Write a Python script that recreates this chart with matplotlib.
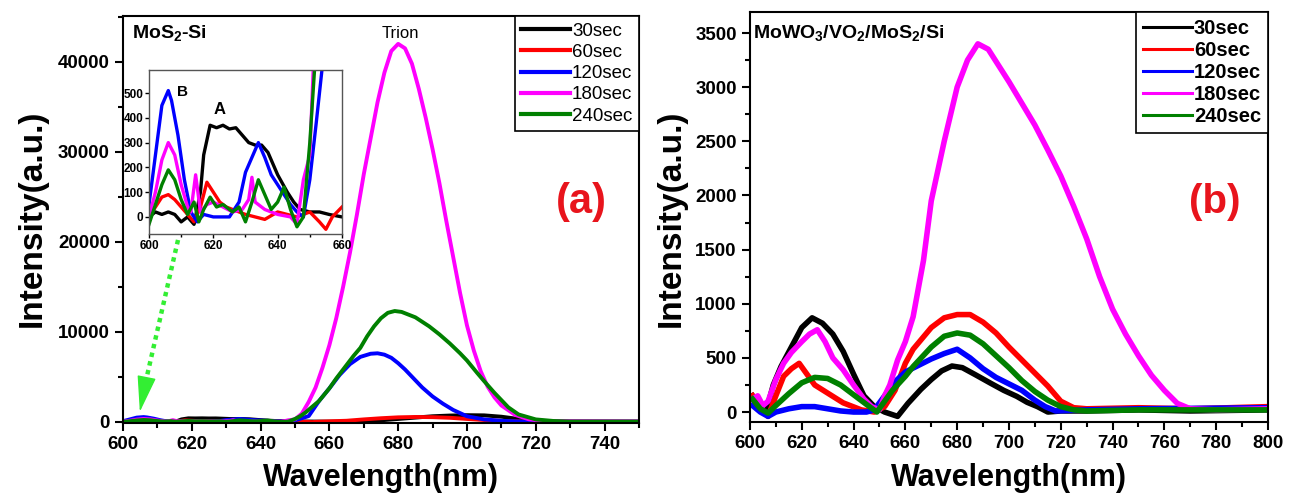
import matplotlib
matplotlib.use("Agg")
import matplotlib.pyplot as plt
from matplotlib.lines import Line2D
from matplotlib.ticker import MultipleLocator

plt.rcParams['font.family'] = ['Liberation Sans', 'DejaVu Sans']
plt.rcParams['font.weight'] = 'bold'
plt.rcParams['mathtext.fontset'] = 'custom'
plt.rcParams['mathtext.rm'] = 'Liberation Sans:bold'
plt.rcParams['mathtext.it'] = 'Liberation Sans:bold'
plt.rcParams['mathtext.bf'] = 'Liberation Sans:bold'

labels = ['30sec', '60sec', '120sec', '180sec', '240sec']
colors = ['#000000', '#ff0000', '#0000ff', '#ff00ff', '#008000']

# ---- panel (a): MoS2-Si, wavelength (nm) / intensity (a.u.)
a_wl_30 = [600, 602, 604, 606, 608, 610, 612, 614, 616, 617, 619, 621, 623, 625, 627, 629, 631, 633,
           635, 637, 640, 643, 645, 647, 650, 653, 656, 660, 665, 670, 675, 680, 685, 690, 695, 700,
           705, 710, 715, 720, 730, 750]
a_int_30 = [0, 20, 10, 20, 10, -20, 0, -30, 100, 250, 370, 360, 370, 355, 360, 330, 300, 290,
            290, 260, 170, 100, 60, 30, 20, 20, 10, 0, 0, 50, 150, 300, 450, 600, 680, 720,
            700, 550, 300, 100, 20, 0]

a_wl_60 = [600, 602, 604, 606, 608, 610, 612, 614, 616, 618, 620, 622, 624, 626, 628, 630, 633, 636,
           640, 643, 646, 650, 653, 655, 657, 660, 665, 670, 675, 680, 685, 690, 695, 700, 705, 710,
           715, 720, 730, 750]
a_int_60 = [0, 40, 80, 90, 70, 40, 10, -20, 40, 140, 100, 60, 40, 30, 20, 10, 0, -10,
            20, 10, 0, 20, -20, -50, 0, 40, 100, 250, 380, 480, 520, 500, 430, 300, 180, 80,
            30, 10, 0, 0]

a_wl_120 = [600, 602, 604, 606, 607, 609, 611, 613, 615, 617, 620, 625, 628, 630, 632, 634, 636, 638,
            640, 642, 644, 646, 648, 650, 652, 654, 657, 660, 663, 666, 669, 672, 674, 676, 678, 680,
            682, 684, 687, 690, 693, 696, 700, 705, 710, 715, 720, 750]
a_int_120 = [50, 250, 450, 510, 470, 330, 150, 20, -20, 10, 0, 0, 60, 180, 240, 300, 240, 170,
             130, 90, 50, 20, 0, 150, 380, 620, 2300, 3700, 5200, 6400, 7200, 7550, 7600, 7450, 7100, 6500,
             5800, 5000, 3800, 2800, 2000, 1300, 600, 250, 100, 20, 0, 0]

a_wl_180 = [600, 602, 604, 606, 608, 610, 612, 613, 614.5, 616, 618, 620, 623, 626, 629, 631, 632, 633,
            636, 640, 644, 646, 648, 650, 652, 654, 656, 658, 660, 662, 664, 666, 668, 670, 672, 674,
            676, 678, 680, 682, 684, 686, 688, 690, 692, 694, 696, 698, 700, 702, 704, 706, 708, 710,
            714, 718, 722, 730, 750]
a_int_180 = [0, 100, 230, 300, 250, 130, 40, 20, 170, 20, 50, 60, 40, 20, 30, 70, 160, 60,
             30, 10, 0, -30, 150, 250, 900, 2200, 3800, 6000, 8500, 11500, 15000, 18800, 23000, 27500, 31500, 35500,
             38800, 41200, 42000, 41500, 39800, 37000, 33800, 30300, 26500, 22300, 18300, 14300, 10700, 7900, 5600, 3900, 2700, 1800,
             750, 260, 80, 20, 0]

a_wl_240 = [600, 602, 604, 606, 608, 610, 612, 614, 615.5, 617, 619, 621, 623, 626, 628, 630, 632, 634,
            636, 638, 640, 642, 644, 646, 648, 650, 651.5, 653, 657, 660, 662, 665, 667, 669, 671, 673,
            675, 677, 679, 681, 683, 685, 687, 689, 692, 695, 698, 700, 703, 705, 708, 710, 712, 715,
            720, 725, 730, 750]
a_int_240 = [-30, 50, 130, 190, 150, 70, 10, 60, -20, 30, 80, 40, 50, 20, 40, -20, 60, 150,
             90, 30, 60, 120, 30, -40, 0, 300, 600, 1000, 2300, 3700, 4800, 6300, 7300, 8200, 9500, 10600,
             11500, 12100, 12300, 12200, 11900, 11600, 11100, 10600, 9700, 8700, 7600, 6800, 5400, 4500, 3200, 2400, 1600, 800,
             250, 80, 0, 0]

# ---- panel (b): MoWO3/VO2/MoS2/Si
b_wl_30 = [601, 603, 606, 609, 612, 616, 620, 624, 628, 632, 636, 640, 644, 648, 652, 657, 661, 666,
           670, 674, 678, 682, 687, 693, 698, 703, 707, 711, 715, 720, 730, 750, 770, 800]
b_int_30 = [150, 80, -20, 250, 420, 600, 780, 870, 820, 720, 560, 350, 150, 50, 0, -40, 80, 210,
            300, 380, 425, 410, 345, 265, 200, 145, 90, 50, 0, 10, 10, 20, 10, 20]

b_wl_60 = [601, 604, 607, 610, 613, 616, 619, 622, 625, 630, 636, 643, 648, 652, 656, 660, 663, 670,
           675, 680, 685, 690, 695, 700, 705, 710, 715, 720, 725, 730, 750, 770, 800]
b_int_60 = [150, 30, -40, 150, 330, 400, 450, 350, 250, 175, 85, 20, 0, 50, 200, 450, 580, 780,
            870, 900, 900, 830, 730, 600, 480, 360, 240, 100, 40, 30, 40, 30, 50]

b_wl_120 = [601, 604, 607, 610, 615, 620, 625, 630, 635, 640, 645, 648, 652, 656, 660, 665, 670, 675,
            680, 685, 690, 695, 700, 705, 710, 714, 718, 730, 750, 800]
b_int_120 = [60, 0, -40, 0, 30, 50, 50, 30, 10, 0, 0, 20, 150, 280, 370, 430, 490, 540,
             580, 500, 400, 320, 260, 200, 110, 50, 10, 20, 30, 40]

b_wl_180 = [601, 603, 605, 607, 610, 613, 616, 620, 623, 626, 629, 632, 636, 640, 644, 647, 650, 652,
            654, 657, 660, 663, 667, 670, 675, 680, 684, 688, 692, 696, 700, 705, 710, 715, 720, 725,
            730, 735, 740, 745, 750, 755, 760, 765, 770, 780, 800]
b_int_180 = [120, 150, 60, 100, 300, 450, 550, 650, 720, 760, 650, 500, 390, 250, 120, 50, 20, 150,
             250, 480, 650, 880, 1400, 1950, 2500, 3000, 3250, 3400, 3350, 3200, 3050, 2850, 2650, 2420, 2180, 1900,
             1600, 1250, 950, 720, 520, 340, 200, 80, 30, 20, 30]

b_wl_240 = [601, 604, 607, 610, 615, 620, 625, 630, 635, 640, 645, 649, 655, 660, 663, 670, 675, 680,
            685, 690, 695, 700, 705, 710, 715, 720, 725, 730, 750, 800]
b_int_240 = [120, 30, -10, 60, 170, 270, 320, 310, 250, 160, 70, 0, 200, 330, 420, 600, 700, 730,
             710, 630, 520, 410, 290, 190, 110, 50, 20, 10, 20, 20]

a_series = [(a_wl_30, a_int_30), (a_wl_60, a_int_60), (a_wl_120, a_int_120),
            (a_wl_180, a_int_180), (a_wl_240, a_int_240)]
b_series = [(b_wl_30, b_int_30), (b_wl_60, b_int_60), (b_wl_120, b_int_120),
            (b_wl_180, b_int_180), (b_wl_240, b_int_240)]


def style(ax, size, major_len=6, minor_len=3.5, width=1.5):
    for s in ax.spines.values():
        s.set_linewidth(width)
    ax.tick_params(which='both', direction='out', top=False, right=False,
                   width=width, labelsize=size)
    ax.tick_params(which='major', length=major_len)
    ax.tick_params(which='minor', length=minor_len)


fig = plt.figure(figsize=(12.89, 4.98), dpi=100)
ax1 = fig.add_axes([0.0954, 0.1506, 0.4003, 0.8173])
ax2 = fig.add_axes([0.5818, 0.1526, 0.4019, 0.8233])

# panel (a)
for (wl, val), c in zip(a_series, colors):
    ax1.plot(wl, val, color=c, lw=2.8)
ax1.set_xlim(600, 750)
ax1.set_ylim(-150, 45100)
ax1.xaxis.set_major_locator(MultipleLocator(20))
ax1.xaxis.set_minor_locator(MultipleLocator(10))
ax1.yaxis.set_major_locator(MultipleLocator(10000))
ax1.yaxis.set_minor_locator(MultipleLocator(5000))
style(ax1, 13.5)

handles = [Line2D([], [], color=c, lw=3) for c in colors]
ax1.legend(handles, labels, loc='upper right', bbox_to_anchor=(1, 1), borderaxespad=0,
           fancybox=False, edgecolor='black', framealpha=1, handlelength=2.6,
           handletextpad=0.1, labelspacing=0.22, borderpad=0.35,
           prop={'size': 13.5, 'weight': 'normal'}).get_frame().set_linewidth(1.2)

ax1.text(0.017, 0.958, 'MoS$_2$-Si', transform=ax1.transAxes, ha='left', va='center', fontsize=14)
ax1.text(680.5, 43100, 'Trion', ha='center', va='center', fontsize=12, fontweight='normal')

# green dotted pointer from the inset down to the 600-650 nm region
ax1.plot([616, 606.7], [20200, 4600], ls=(0, (1, 1)), color='#33ee33', lw=3.2)
ax1.annotate('', xy=(604.9, 1100), xytext=(606.7, 4600),
             arrowprops=dict(arrowstyle='-|>,head_length=2.3,head_width=0.6', mutation_scale=10,
                             color='#33ee33', lw=1, shrinkA=0, shrinkB=0))

# inset of (a)
axin = fig.add_axes([0.1156, 0.5301, 0.1497, 0.3293])
for (wl, val), c in zip(a_series, colors):
    axin.plot(wl, val, color=c, lw=2.4)
axin.set_xlim(600, 660)
axin.set_ylim(-69, 593)
axin.xaxis.set_major_locator(MultipleLocator(20))
axin.xaxis.set_minor_locator(MultipleLocator(10))
axin.yaxis.set_major_locator(MultipleLocator(100))
style(axin, 8.5, major_len=3, minor_len=2, width=1)
for s in axin.spines.values():
    s.set_color('#555555')
axin.tick_params(which='both', pad=1)
axin.text(610.4, 505, 'B', ha='center', va='center', fontsize=11)
axin.text(622, 435, 'A', ha='center', va='center', fontsize=12)

# panel (b)
for (wl, val), c in zip(b_series, colors):
    ax2.plot(wl, val, color=c, lw=4)
ax2.set_xlim(600, 800)
ax2.set_ylim(-92, 3694)
ax2.xaxis.set_major_locator(MultipleLocator(20))
ax2.xaxis.set_minor_locator(MultipleLocator(10))
ax2.yaxis.set_major_locator(MultipleLocator(500))
ax2.yaxis.set_minor_locator(MultipleLocator(250))
style(ax2, 13.5)

handles = [Line2D([], [], color=c, lw=2.2) for c in colors]
ax2.legend(handles, labels, loc='upper right', bbox_to_anchor=(1, 1), borderaxespad=0,
           fancybox=False, edgecolor='black', framealpha=1, handlelength=2.4,
           handletextpad=0.1, labelspacing=0.15, borderpad=0.35,
           prop={'size': 14.5, 'weight': 'bold'}).get_frame().set_linewidth(1.2)

ax2.text(0.006, 0.949, 'MoWO$_3$/VO$_2$/MoS$_2$/Si', transform=ax2.transAxes,
         ha='left', va='center', fontsize=14)

# labels
red = '#e8141c'
fig.text(0.4507, 0.594, '(a)', color=red, fontsize=30, ha='center', va='center')
fig.text(0.9426, 0.594, '(b)', color=red, fontsize=29, ha='center', va='center')
fig.text(0.025, 0.562, 'Intensity(a.u.)', rotation=90, fontsize=24, ha='center', va='center')
fig.text(0.521, 0.562, 'Intensity(a.u.)', rotation=90, fontsize=24, ha='center', va='center')
fig.text(0.2955, 0.040, 'Wavelength(nm)', fontsize=22, ha='center', va='center')
fig.text(0.7827, 0.040, 'Wavelength(nm)', fontsize=22, ha='center', va='center')

fig.savefig('out.png', dpi=100)
